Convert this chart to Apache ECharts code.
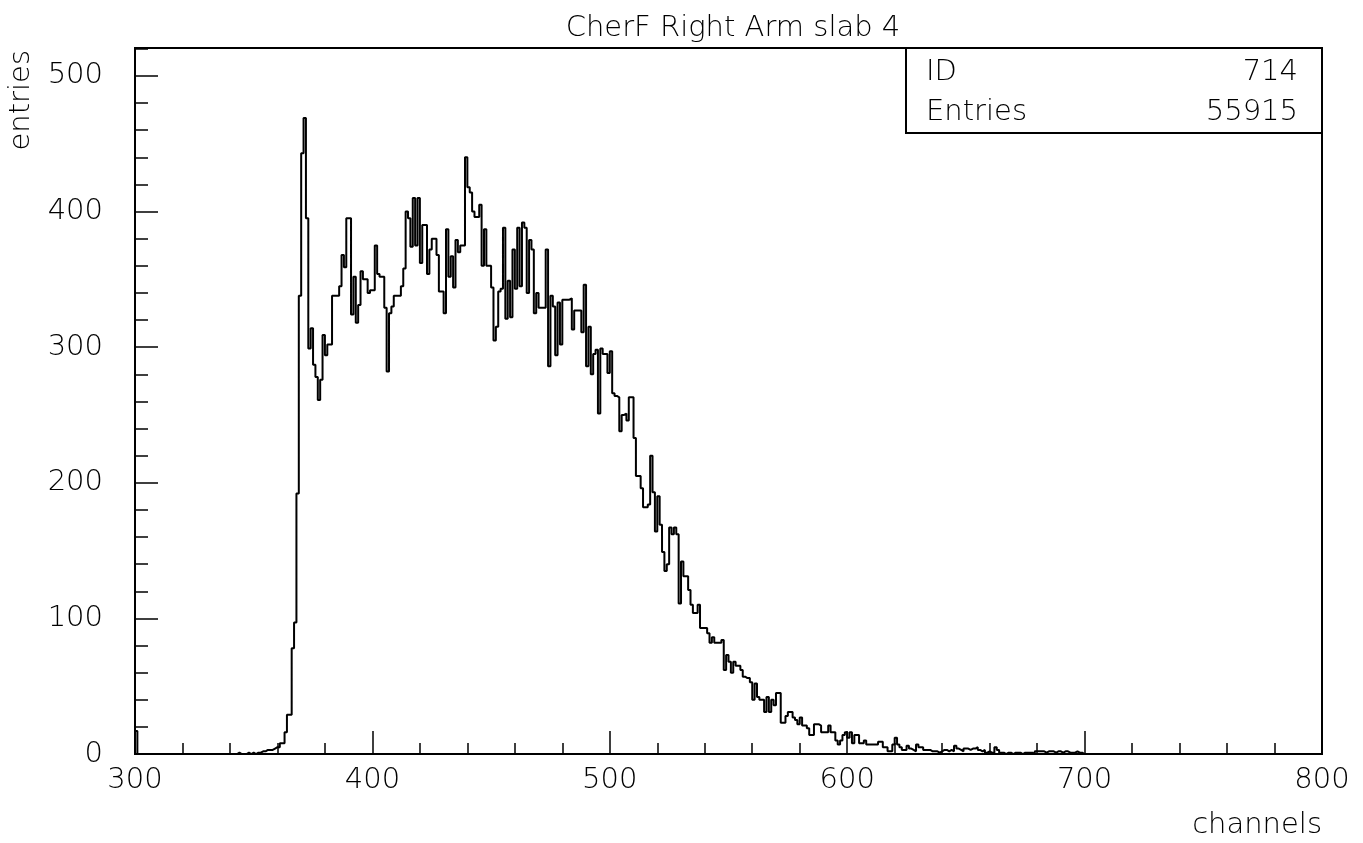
<!DOCTYPE html>
<html>
<head>
<meta charset="utf-8">
<script src="https://cdn.jsdelivr.net/npm/echarts@6/dist/echarts.min.js"></script>
<style>
html,body{margin:0;padding:0;background:#fff;}
#chart{width:1363px;height:843px;}
</style>
</head>
<body>
<div id="chart"></div>
<script>
// ---- data (counts per 1-channel bin) ----
const titleText = "CherF Right Arm slab 4";
const xAxisName = "channels";
const yAxisName = "entries";
const statsLabels = ["ID", "Entries"];
const statsValues = ["714", "55915"];
const xTickLabels = [300, 400, 500, 600, 700, 800];
const yTickLabels = [0, 100, 200, 300, 400, 500];

const firstBinChannel = 300;
const firstBinCount = 17;

const countsStart = 340;
const counts340to399 = [
  0,0,0,1,0,0,0,1,0,1,
  0,1,1,2,2,3,3,3,4,5,
  5,8,8,16,29,29,78,97,192,338,
  443,469,395,299,314,287,278,261,276,309,
  294,302,302,338,338,338,345,368,359,395,
  395,324,352,318,331,356,350,350,340,342
];
const counts400to499 = [
  342,375,354,352,352,329,282,325,330,338,
  338,338,345,358,400,395,374,410,375,410,
  362,390,390,354,372,380,380,368,341,341,
  325,387,352,367,344,379,370,375,375,440,
  418,414,400,396,396,405,360,387,360,360,
  344,305,315,341,343,388,321,349,322,372,
  343,388,345,392,388,340,379,372,325,340,
  329,329,329,372,286,338,330,294,333,302,
  335,335,335,336,313,327,327,327,311,346,
  286,315,280,295,298,251,299,295,295,281
];
const counts500to599 = [
  297,266,264,263,238,250,251,246,263,263,
  233,205,205,196,182,182,184,220,193,164,
  190,169,149,135,140,167,162,167,162,111,
  142,131,131,121,110,104,104,110,93,93,
  93,89,82,86,82,82,82,84,62,73,
  68,60,68,65,65,62,57,56,56,53,
  40,52,42,40,40,31,42,31,40,36,
  45,45,23,23,28,31,31,27,25,22,
  27,21,21,19,14,14,22,22,21,16,
  16,16,21,16,16,10,7,10,14,16
];
const counts600to699 = [
  12,16,8,14,14,8,8,10,7,7,
  7,7,7,9,9,5,5,2,2,7,
  12,7,5,3,3,6,4,3,2,7,
  5,5,3,3,3,2,2,2,1,2,
  3,3,2,3,2,6,4,3,2,4,
  4,3,4,4,5,3,2,3,1,2,
  1,1,5,3,1,1,0,1,1,0,
  1,1,1,0,1,1,1,1,0,2,
  2,2,2,1,2,2,2,1,2,2,
  1,2,2,1,1,1,2,1,1,0
];

// ---- build histogram points ----
const allCounts = [].concat(counts340to399, counts400to499, counts500to599, counts600to699);
const points = [[firstBinChannel, firstBinCount], [firstBinChannel + 1, 0]];
allCounts.forEach((c, i) => points.push([countsStart + i, c]));
points.push([countsStart + allCounts.length, 0]);

const FONT = "DejaVu Sans";
const FS = 29;

const chart = echarts.init(document.getElementById('chart'), null, {renderer: 'canvas'});

const xMin = xTickLabels[0], xMax = xTickLabels[xTickLabels.length - 1];
const yMin = 0, yMax = 520.6;

const commonX = {type: 'value', min: xMin, max: xMax, splitLine: {show: false}, position: 'bottom'};
const commonY = {type: 'value', min: yMin, max: yMax, splitLine: {show: false}, position: 'left'};

chart.setOption({
  animation: false,
  backgroundColor: '#fff',
  title: {
    text: titleText,
    left: 728,
    top: 9,
    textAlign: 'center',
    textStyle: {fontFamily: FONT, fontSize: FS, fontWeight: 200, color: '#000'}
  },
  grid: {
    left: 135, right: 41, top: 48, bottom: 89,
    show: true, borderColor: '#000', borderWidth: 2, backgroundColor: 'transparent'
  },
  xAxis: [
    Object.assign({}, commonX, {
      interval: 20,
      axisLine: {show: true, onZero: false, lineStyle: {color: '#000', width: 2}},
      axisTick: {show: true, inside: true, length: 11, lineStyle: {color: '#000', width: 1.5}},
      axisLabel: {
        margin: 12, color: '#000', fontFamily: FONT, fontSize: FS, fontWeight: 200,
        formatter: v => (xTickLabels.indexOf(v) >= 0 ? String(v) : '')
      }
    }),
    Object.assign({}, commonX, {
      interval: 100, offset: 0,
      axisLine: {show: false},
      axisTick: {show: true, inside: true, length: 23, lineStyle: {color: '#000', width: 1.5}},
      axisLabel: {show: false}
    })
  ],
  yAxis: [
    Object.assign({}, commonY, {
      interval: 20,
      axisLine: {show: true, onZero: false, lineStyle: {color: '#000', width: 2}},
      axisTick: {show: true, inside: true, length: 13, lineStyle: {color: '#000', width: 1.5}},
      axisLabel: {
        margin: 32, color: '#000', fontFamily: FONT, fontSize: FS, fontWeight: 200,
        formatter: v => (yTickLabels.indexOf(v) >= 0 ? String(v) : '')
      }
    }),
    Object.assign({}, commonY, {
      interval: 100, offset: 0,
      axisLine: {show: false},
      axisTick: {show: true, inside: true, length: 23, lineStyle: {color: '#000', width: 1.5}},
      axisLabel: {show: false}
    })
  ],
  series: [{
    type: 'line',
    step: 'end',
    xAxisIndex: 0,
    yAxisIndex: 0,
    data: points,
    symbol: 'none',
    lineStyle: {color: '#000', width: 2},
    z: 3
  }],
  graphic: [
    {
      type: 'rect', z: 10,
      shape: {x: 906, y: 48, width: 416, height: 85},
      style: {fill: '#fff', stroke: '#000', lineWidth: 2}
    },
    {type: 'text', z: 11, x: 926, y: 72,
      style: {text: statsLabels[0], font: '200 ' + FS + 'px "' + FONT + '"', fill: '#000', textAlign: 'left', textVerticalAlign: 'middle'}},
    {type: 'text', z: 11, x: 1298, y: 72,
      style: {text: statsValues[0], font: '200 ' + FS + 'px "' + FONT + '"', fill: '#000', textAlign: 'right', textVerticalAlign: 'middle'}},
    {type: 'text', z: 11, x: 926, y: 112,
      style: {text: statsLabels[1], font: '200 ' + FS + 'px "' + FONT + '"', fill: '#000', textAlign: 'left', textVerticalAlign: 'middle'}},
    {type: 'text', z: 11, x: 1298, y: 112,
      style: {text: statsValues[1], font: '200 ' + FS + 'px "' + FONT + '"', fill: '#000', textAlign: 'right', textVerticalAlign: 'middle'}},
    {type: 'text', z: 11, x: 1322, y: 825,
      style: {text: xAxisName, font: '200 ' + FS + 'px "' + FONT + '"', fill: '#000', textAlign: 'right', textVerticalAlign: 'middle'}},
    {type: 'text', z: 11, x: 21, y: 50, rotation: Math.PI / 2,
      style: {text: yAxisName, font: '200 ' + FS + 'px "' + FONT + '"', fill: '#000', textAlign: 'right', textVerticalAlign: 'middle'}}
  ]
});
</script>
</body>
</html>
